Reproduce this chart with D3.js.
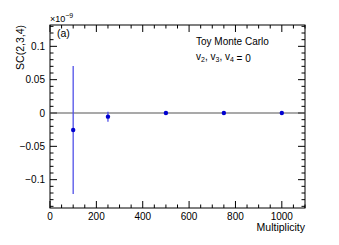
<!DOCTYPE html>
<html><head><meta charset="utf-8">
<script src="https://cdn.jsdelivr.net/npm/d3@7"></script>
<style>body{margin:0;background:#fff}svg{display:block}text{font-family:"Liberation Sans",Arial,sans-serif}</style>
</head><body>
<script>
const multiplicity = [100, 250, 500, 750, 1000];
const scValues = [-0.0255, -0.0055, 0.0, 0.0, 0.0];   // ×1e-9
const scErrors = [0.096, 0.0075, 0.0008, 0.0008, 0.0008];
const xTicks = [0, 200, 400, 600, 800, 1000];
const yTicks = [-0.1, -0.05, 0, 0.05, 0.1];
const yTickLabels = ["\u22120.1", "\u22120.05", "0", "0.05", "0.1"];

const W = 339, H = 245;
const L = 50, R = 305, T = 25, B = 208;
const svg = d3.select("body").append("svg").attr("width", W).attr("height", H);
const x = d3.scaleLinear().domain([0, 1100]).range([L, R]);
const y = d3.scaleLinear().domain([-0.1425, 0.132]).range([B, T]);

const ink = "#000";
// minor ticks
const xMinor = d3.range(0, 1101, 50);
const yMinor = d3.range(-14, 14).map(d => d / 100);
const g = svg.append("g");
xMinor.forEach(v => {
  const major = v % 200 === 0;
  const len = major ? 7 : 3.5;
  g.append("line").attr("x1", x(v)).attr("x2", x(v)).attr("y1", B).attr("y2", B - len).attr("stroke", ink).attr("stroke-width", 1);
  g.append("line").attr("x1", x(v)).attr("x2", x(v)).attr("y1", T).attr("y2", T + len).attr("stroke", ink).attr("stroke-width", 1);
});
yMinor.forEach(v => {
  const major = Math.abs(Math.round(v * 100)) % 5 === 0;
  const len = major ? 7 : 3.5;
  g.append("line").attr("y1", y(v)).attr("y2", y(v)).attr("x1", L).attr("x2", L + len).attr("stroke", ink).attr("stroke-width", 1);
  g.append("line").attr("y1", y(v)).attr("y2", y(v)).attr("x1", R).attr("x2", R - len).attr("stroke", ink).attr("stroke-width", 1);
});
// frame
svg.append("rect").attr("x", L).attr("y", T).attr("width", R - L).attr("height", B - T)
  .attr("fill", "none").attr("stroke", ink).attr("stroke-width", 1);

// zero line
svg.append("line").attr("x1", L).attr("x2", R).attr("y1", y(0)).attr("y2", y(0))
  .attr("stroke", "#555").attr("stroke-width", 1.2);

// tick labels
svg.selectAll(".xl").data(xTicks).enter().append("text")
  .attr("x", d => x(d)).attr("y", 220).attr("text-anchor", "middle")
  .attr("font-size", 10).attr("fill", ink).text(d => d);
svg.selectAll(".yl").data(yTicks).enter().append("text")
  .attr("x", 45).attr("y", d => y(d) + 3.5).attr("text-anchor", "end")
  .attr("font-size", 10).attr("fill", ink).text((d, i) => yTickLabels[i]);

// axis titles
svg.append("text").attr("x", R).attr("y", 231).attr("text-anchor", "end")
  .attr("font-size", 10.5).attr("fill", ink).text("Multiplicity");
svg.append("text").attr("transform", `translate(24,${T}) rotate(-90)`).attr("text-anchor", "end")
  .attr("font-size", 10.5).attr("fill", ink).text("SC(2,3,4)");
const e = svg.append("text").attr("x", 50).attr("y", 22).attr("font-size", 9).attr("fill", ink);
e.append("tspan").text("\u00d710");
e.append("tspan").attr("dy", -4).attr("font-size", 7).text("\u22129");

svg.append("text").attr("x", 57).attr("y", 37).attr("font-size", 10.5).attr("fill", ink).text("(a)");
svg.append("text").attr("x", 196).attr("y", 45).attr("font-size", 10).attr("fill", ink).text("Toy Monte Carlo");
const v = svg.append("text").attr("x", 196).attr("y", 60).attr("font-size", 10).attr("fill", ink);
[["v","2"],["v","3"],["v","4"]].forEach((p, i) => {
  v.append("tspan").attr("dy", i === 0 ? 0 : -2).text((i ? ", " : "") + p[0]);
  v.append("tspan").attr("dy", 2).attr("font-size", 7).text(p[1]);
});
v.append("tspan").text(" = 0");

// error bars and points
svg.selectAll(".eb").data(multiplicity).enter().append("line")
  .attr("x1", d => x(d)).attr("x2", d => x(d))
  .attr("y1", (d, i) => y(scValues[i] + scErrors[i]))
  .attr("y2", (d, i) => y(scValues[i] - scErrors[i]))
  .attr("stroke", "#5050e8").attr("stroke-width", 1.3);
svg.selectAll(".pt").data(multiplicity).enter().append("circle")
  .attr("cx", d => x(d)).attr("cy", (d, i) => y(scValues[i]))
  .attr("r", 2.2).attr("fill", "#0000d0");
</script>
</body></html>
